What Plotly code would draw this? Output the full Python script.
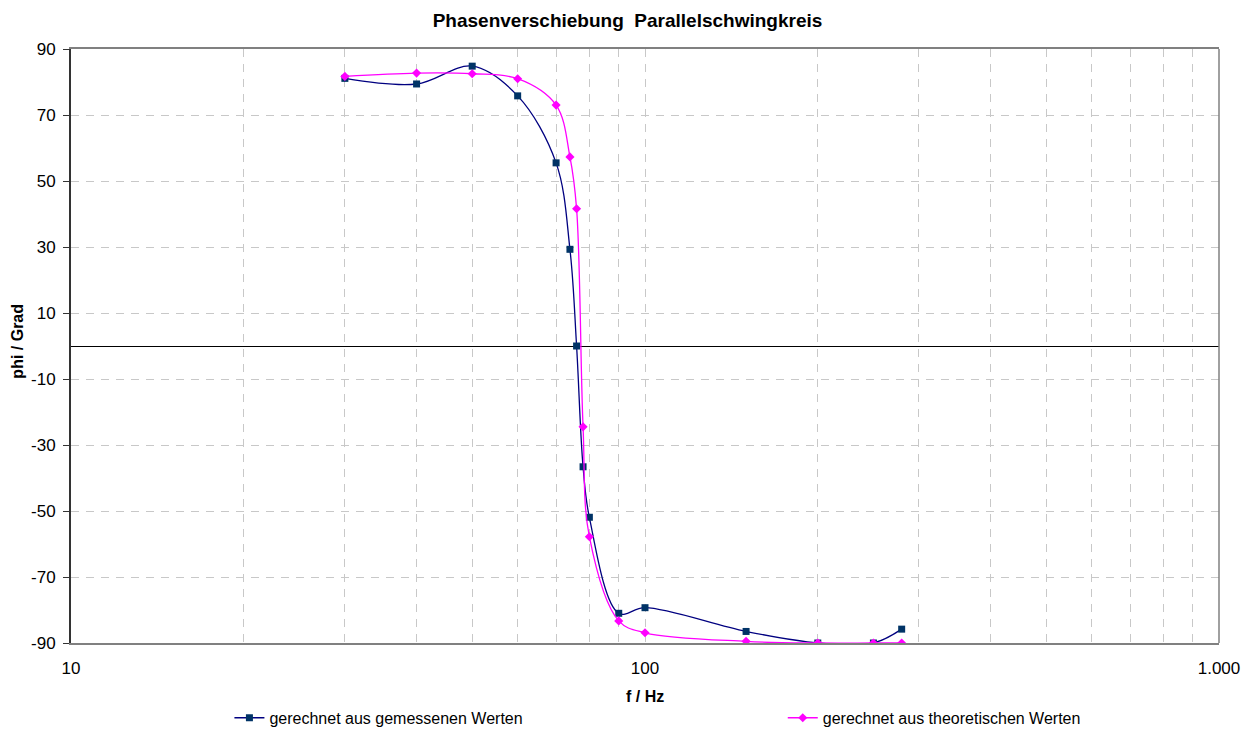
import plotly.graph_objects as go

# ---- data ----
f_gemessen = [30, 40, 50, 60, 70, 74, 76, 78, 80, 90, 100, 150, 200, 250, 280]
phi_gemessen = [81.1, 79.4, 84.8, 75.8, 55.5, 29.3, 0.0, -36.6, -51.9, -81.0, -79.3, -86.5, -90.0, -90.0, -85.8]

f_theorie = [30, 40, 50, 60, 70, 74, 76, 78, 80, 90, 100, 150, 200, 250, 280]
phi_theorie = [81.7, 82.7, 82.5, 81.0, 73.0, 57.3, 41.6, -24.5, -57.8, -83.3, -86.9, -89.5, -90.0, -90.0, -90.0]

x_gridvals = [10, 20, 30, 40, 50, 60, 70, 80, 90,
              100, 200, 300, 400, 500, 600, 700, 800, 900, 1000]
x_ticklabels = {10: "10", 100: "100", 1000: "1.000"}
y_ticks = [-90, -70, -50, -30, -10, 10, 30, 50, 70, 90]

title_text = "Phasenverschiebung  Parallelschwingkreis"
x_title = "f / Hz"
y_title = "phi / Grad"
name_gem = "gerechnet aus gemessenen Werten"
name_theo = "gerechnet aus theoretischen Werten"

FONT = "Liberation Sans, Arial, sans-serif"

fig = go.Figure()
fig.add_trace(go.Scatter(
    x=f_gemessen, y=phi_gemessen, name=name_gem, mode="lines+markers",
    line=dict(color="#000080", width=1.3, shape="spline", smoothing=1.0),
    marker=dict(symbol="square", size=7, color="#003366", line=dict(width=0)),
    legend="legend", cliponaxis=True,
))
fig.add_trace(go.Scatter(
    x=f_theorie, y=phi_theorie, name=name_theo, mode="lines+markers",
    line=dict(color="#FF00FF", width=1.3, shape="spline", smoothing=1.0),
    marker=dict(symbol="diamond", size=7, color="#FF00FF", line=dict(width=0)),
    legend="legend2", cliponaxis=True,
))

fig.update_layout(
    width=1255, height=747,
    margin=dict(l=71, r=36, t=49, b=87),
    paper_bgcolor="white", plot_bgcolor="white",
    font=dict(family=FONT, size=16, color="black"),
    title=dict(text="<b>" + title_text + "</b>", x=0.5, xanchor="center",
               y=1 - 20 / 747, yanchor="middle", font=dict(size=19)),
    legend=dict(orientation="h", x=0.138, xanchor="left", y=-0.126, yanchor="middle",
                font=dict(size=16), bgcolor="rgba(0,0,0,0)"),
    legend2=dict(orientation="h", x=0.62, xanchor="left", y=-0.126, yanchor="middle",
                 font=dict(size=16), bgcolor="rgba(0,0,0,0)"),
    showlegend=True,
)

fig.update_xaxes(
    type="log", range=[1, 3],
    tickvals=x_gridvals,
    ticktext=[x_ticklabels.get(v, "") for v in x_gridvals],
    tickfont=dict(size=17),
    ticklabelstandoff=9,
    showgrid=True, gridcolor="#C8C8C8", griddash="8px,7px", gridwidth=1,
    showline=True, linecolor="#808080", linewidth=1.5, mirror=True,
    ticks="", zeroline=False,
)
fig.update_yaxes(
    range=[-90, 90],
    tickvals=y_ticks,
    ticktext=[str(v) for v in y_ticks],
    tickfont=dict(size=17),
    showgrid=True, gridcolor="#C8C8C8", griddash="8px,7px", gridwidth=1,
    showline=True, linecolor="#333333", linewidth=2, mirror=False,
    ticks="outside", ticklen=6, tickcolor="#333333", tickwidth=1,
    ticklabelstandoff=4,
    zeroline=True, zerolinecolor="black", zerolinewidth=1,
)

# right border of plot area
fig.add_shape(type="line", xref="paper", yref="paper", x0=1, x1=1, y0=0, y1=1,
              line=dict(color="#808080", width=1.5))

fig.add_annotation(text="<b>" + x_title + "</b>", xref="paper", yref="paper",
                   x=0.5, y=(660 - 715) / 611, xanchor="center", yanchor="middle",
                   showarrow=False, font=dict(size=16))
fig.add_annotation(text="<b>" + y_title + "</b>", xref="paper", yref="paper",
                   x=(18 - 71) / 1148, y=(660 - 350) / 611, xanchor="center", yanchor="middle",
                   textangle=-90, showarrow=False, font=dict(size=16))

fig.write_html("out.html")
